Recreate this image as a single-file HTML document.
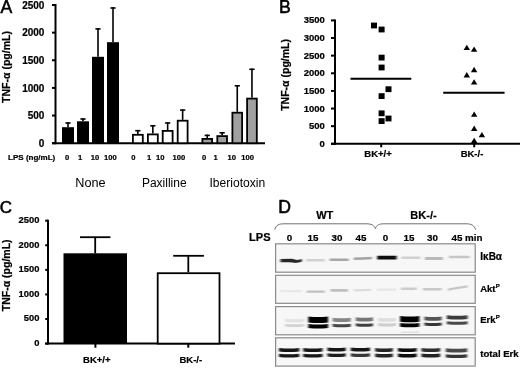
<!DOCTYPE html>
<html><head><meta charset="utf-8"><style>
html,body{margin:0;padding:0;background:#fff;}
body{width:520px;height:368px;overflow:hidden;}
svg{display:block;font-family:"Liberation Sans", sans-serif;filter:grayscale(1);}
text[font-weight=bold]{stroke:#000;stroke-width:0.22px;}
</style></head><body>
<svg width="520" height="368" viewBox="0 0 520 368" fill="#000">
<rect width="520" height="368" fill="#fff"/>
<text x="0.6" y="13.0" font-size="17.6" font-weight="normal" text-anchor="start" stroke="#000" stroke-width="0.55">A</text>
<line x1="55.5" y1="4" x2="55.5" y2="144.2" stroke="#000" stroke-width="2" />
<line x1="52" y1="143.2" x2="55.5" y2="143.2" stroke="#000" stroke-width="2" />
<text x="44.4" y="146.8" font-size="10" font-weight="bold" text-anchor="end" >0</text>
<line x1="52" y1="115.56" x2="55.5" y2="115.56" stroke="#000" stroke-width="2" />
<text x="44.4" y="119.16" font-size="10" font-weight="bold" text-anchor="end" >500</text>
<line x1="52" y1="87.92" x2="55.5" y2="87.92" stroke="#000" stroke-width="2" />
<text x="44.4" y="91.52" font-size="10" font-weight="bold" text-anchor="end" >1000</text>
<line x1="52" y1="60.28" x2="55.5" y2="60.28" stroke="#000" stroke-width="2" />
<text x="44.4" y="63.88" font-size="10" font-weight="bold" text-anchor="end" >1500</text>
<line x1="52" y1="32.64" x2="55.5" y2="32.64" stroke="#000" stroke-width="2" />
<text x="44.4" y="36.24" font-size="10" font-weight="bold" text-anchor="end" >2000</text>
<line x1="52" y1="5" x2="55.5" y2="5" stroke="#000" stroke-width="2" />
<text x="44.4" y="8.6" font-size="10" font-weight="bold" text-anchor="end" >2500</text>
<line x1="52" y1="143.2" x2="265" y2="143.2" stroke="#000" stroke-width="2" />
<text transform="translate(9.6,67) rotate(-90)" font-size="10.5" font-weight="bold" text-anchor="middle">TNF-&#945; (pg/mL)</text>
<text x="8.1" y="159.6" font-size="8" font-weight="bold" text-anchor="start" >LPS (ng/mL)</text>
<line x1="68.0" y1="127.2" x2="68.0" y2="122.2" stroke="#000" stroke-width="1.6" />
<line x1="65.4" y1="123.0" x2="70.6" y2="123.0" stroke="#000" stroke-width="1.6" />
<rect x="62" y="127.2" width="12" height="16" fill="#000" />
<line x1="83.0" y1="121.3" x2="83.0" y2="118.2" stroke="#000" stroke-width="1.6" />
<line x1="80.4" y1="119.0" x2="85.6" y2="119.0" stroke="#000" stroke-width="1.6" />
<rect x="77" y="121.3" width="12" height="21.9" fill="#000" />
<line x1="98.0" y1="56.8" x2="98.0" y2="28.1" stroke="#000" stroke-width="1.6" />
<line x1="95.4" y1="28.9" x2="100.6" y2="28.9" stroke="#000" stroke-width="1.6" />
<rect x="92" y="56.8" width="12" height="86.4" fill="#000" />
<line x1="113.0" y1="42.2" x2="113.0" y2="7.2" stroke="#000" stroke-width="1.6" />
<line x1="110.4" y1="8.0" x2="115.6" y2="8.0" stroke="#000" stroke-width="1.6" />
<rect x="107" y="42.2" width="12" height="101" fill="#000" />
<line x1="137.85" y1="133.9" x2="137.85" y2="129.9" stroke="#000" stroke-width="1.6" />
<line x1="135.25" y1="130.7" x2="140.45" y2="130.7" stroke="#000" stroke-width="1.6" />
<rect x="132.9" y="134.8" width="9.9" height="8.4" fill="#fff" stroke="#000" stroke-width="1.8"/>
<line x1="152.85" y1="133.5" x2="152.85" y2="125.0" stroke="#000" stroke-width="1.6" />
<line x1="150.25" y1="125.8" x2="155.45" y2="125.8" stroke="#000" stroke-width="1.6" />
<rect x="147.9" y="134.4" width="9.9" height="8.8" fill="#fff" stroke="#000" stroke-width="1.8"/>
<line x1="167.65" y1="130.0" x2="167.65" y2="122.2" stroke="#000" stroke-width="1.6" />
<line x1="165.05" y1="123.0" x2="170.25" y2="123.0" stroke="#000" stroke-width="1.6" />
<rect x="162.7" y="130.9" width="9.9" height="12.3" fill="#fff" stroke="#000" stroke-width="1.8"/>
<line x1="182.65" y1="119.8" x2="182.65" y2="109.3" stroke="#000" stroke-width="1.6" />
<line x1="180.05" y1="110.1" x2="185.25" y2="110.1" stroke="#000" stroke-width="1.6" />
<rect x="177.7" y="120.7" width="9.9" height="22.5" fill="#fff" stroke="#000" stroke-width="1.8"/>
<line x1="207.25" y1="138.0" x2="207.25" y2="134.6" stroke="#000" stroke-width="1.6" />
<line x1="204.65" y1="135.4" x2="209.85" y2="135.4" stroke="#000" stroke-width="1.6" />
<rect x="202.4" y="138.9" width="9.7" height="4.3" fill="#a0a0a0" stroke="#000" stroke-width="1.8"/>
<line x1="222.15" y1="135.2" x2="222.15" y2="132.0" stroke="#000" stroke-width="1.6" />
<line x1="219.55" y1="132.8" x2="224.75" y2="132.8" stroke="#000" stroke-width="1.6" />
<rect x="217.3" y="136.1" width="9.7" height="7.1" fill="#a0a0a0" stroke="#000" stroke-width="1.8"/>
<line x1="237.25" y1="111.8" x2="237.25" y2="85.0" stroke="#000" stroke-width="1.6" />
<line x1="234.65" y1="85.8" x2="239.85" y2="85.8" stroke="#000" stroke-width="1.6" />
<rect x="232.4" y="112.7" width="9.7" height="30.5" fill="#a0a0a0" stroke="#000" stroke-width="1.8"/>
<line x1="251.95" y1="97.7" x2="251.95" y2="68.5" stroke="#000" stroke-width="1.6" />
<line x1="249.35" y1="69.3" x2="254.55" y2="69.3" stroke="#000" stroke-width="1.6" />
<rect x="247.1" y="98.6" width="9.7" height="44.6" fill="#a0a0a0" stroke="#000" stroke-width="1.8"/>
<text x="67" y="160" font-size="7.6" font-weight="bold" text-anchor="middle" >0</text>
<text x="80" y="160" font-size="7.6" font-weight="bold" text-anchor="middle" >1</text>
<text x="95" y="160" font-size="7.6" font-weight="bold" text-anchor="middle" >10</text>
<text x="110.3" y="160" font-size="7.6" font-weight="bold" text-anchor="middle" >100</text>
<text x="133.3" y="160" font-size="7.6" font-weight="bold" text-anchor="middle" >0</text>
<text x="149.2" y="160" font-size="7.6" font-weight="bold" text-anchor="middle" >1</text>
<text x="160.3" y="160" font-size="7.6" font-weight="bold" text-anchor="middle" >10</text>
<text x="178.8" y="160" font-size="7.6" font-weight="bold" text-anchor="middle" >100</text>
<text x="204" y="160" font-size="7.6" font-weight="bold" text-anchor="middle" >0</text>
<text x="215.5" y="160" font-size="7.6" font-weight="bold" text-anchor="middle" >1</text>
<text x="231.8" y="160" font-size="7.6" font-weight="bold" text-anchor="middle" >10</text>
<text x="247.7" y="160" font-size="7.6" font-weight="bold" text-anchor="middle" >100</text>
<text x="75.3" y="187" font-size="12.7" font-weight="normal" text-anchor="start" >None</text>
<text x="141.9" y="187" font-size="12.0" font-weight="normal" text-anchor="start" >Paxilline</text>
<text x="209.4" y="187" font-size="12.1" font-weight="normal" text-anchor="start" >Iberiotoxin</text>
<text x="279.0" y="12.8" font-size="17.6" font-weight="normal" text-anchor="start" stroke="#000" stroke-width="0.55">B</text>
<line x1="335" y1="19.39" x2="335" y2="144.8" stroke="#000" stroke-width="2" />
<line x1="331" y1="143.8" x2="335" y2="143.8" stroke="#000" stroke-width="2" />
<text x="324.9" y="146.9" font-size="9.5" font-weight="bold" text-anchor="end" >0</text>
<line x1="331" y1="126.17" x2="335" y2="126.17" stroke="#000" stroke-width="2" />
<text x="324.9" y="129.27" font-size="9.5" font-weight="bold" text-anchor="end" >500</text>
<line x1="331" y1="108.54" x2="335" y2="108.54" stroke="#000" stroke-width="2" />
<text x="324.9" y="111.64" font-size="9.5" font-weight="bold" text-anchor="end" >1000</text>
<line x1="331" y1="90.91" x2="335" y2="90.91" stroke="#000" stroke-width="2" />
<text x="324.9" y="94.01" font-size="9.5" font-weight="bold" text-anchor="end" >1500</text>
<line x1="331" y1="73.28" x2="335" y2="73.28" stroke="#000" stroke-width="2" />
<text x="324.9" y="76.38" font-size="9.5" font-weight="bold" text-anchor="end" >2000</text>
<line x1="331" y1="55.65" x2="335" y2="55.65" stroke="#000" stroke-width="2" />
<text x="324.9" y="58.75" font-size="9.5" font-weight="bold" text-anchor="end" >2500</text>
<line x1="331" y1="38.02" x2="335" y2="38.02" stroke="#000" stroke-width="2" />
<text x="324.9" y="41.12" font-size="9.5" font-weight="bold" text-anchor="end" >3000</text>
<line x1="331" y1="20.39" x2="335" y2="20.39" stroke="#000" stroke-width="2" />
<text x="324.9" y="23.49" font-size="9.5" font-weight="bold" text-anchor="end" >3500</text>
<line x1="331" y1="143.8" x2="520" y2="143.8" stroke="#000" stroke-width="2" />
<line x1="381.2" y1="143.8" x2="381.2" y2="147.3" stroke="#000" stroke-width="2" />
<line x1="474.2" y1="143.8" x2="474.2" y2="147.3" stroke="#000" stroke-width="2" />
<text x="378" y="156.7" font-size="9.5" font-weight="bold" text-anchor="middle" >BK+/+</text>
<text x="472" y="156.7" font-size="9.5" font-weight="bold" text-anchor="middle" >BK-/-</text>
<text transform="translate(288.6,74.9) rotate(-90)" font-size="10.5" font-weight="bold" text-anchor="middle">TNF-&#945; (pg/mL)</text>
<rect x="371" y="22.6" width="6" height="5.8" fill="#000" />
<rect x="378.6" y="26.6" width="6" height="5.8" fill="#000" />
<rect x="378.6" y="54.7" width="6" height="5.8" fill="#000" />
<rect x="378.6" y="64.6" width="6" height="5.8" fill="#000" />
<rect x="385.5" y="86.3" width="6" height="5.8" fill="#000" />
<rect x="378.6" y="93.2" width="6" height="5.8" fill="#000" />
<rect x="378.6" y="110.4" width="6" height="5.8" fill="#000" />
<rect x="385.5" y="115.6" width="6" height="5.8" fill="#000" />
<rect x="378.6" y="118.2" width="6" height="5.8" fill="#000" />
<line x1="350.5" y1="78.7" x2="411.3" y2="78.7" stroke="#000" stroke-width="2" />
<polygon points="463.6,50.1 470.0,50.1 466.8,44.7" fill="#000"/>
<polygon points="470.9,51.8 477.3,51.8 474.1,46.4" fill="#000"/>
<polygon points="470.9,72.2 477.3,72.2 474.1,66.8" fill="#000"/>
<polygon points="463.6,77.4 470.0,77.4 466.8,72.0" fill="#000"/>
<polygon points="470.9,84.6 477.3,84.6 474.1,79.2" fill="#000"/>
<polygon points="471.0,116.8 477.4,116.8 474.2,111.4" fill="#000"/>
<polygon points="471.0,130.9 477.4,130.9 474.2,125.5" fill="#000"/>
<polygon points="478.7,137.3 485.1,137.3 481.9,131.9" fill="#000"/>
<polygon points="471.0,143.1 477.4,143.1 474.2,137.7" fill="#000"/>
<line x1="443.2" y1="92.8" x2="504.6" y2="92.8" stroke="#000" stroke-width="2" />
<text x="-0.2" y="213.3" font-size="16.9" font-weight="normal" text-anchor="start" stroke="#000" stroke-width="0.55">C</text>
<line x1="48" y1="219.7" x2="48" y2="344.6" stroke="#000" stroke-width="2" />
<line x1="45.2" y1="343.6" x2="48" y2="343.6" stroke="#000" stroke-width="2" />
<text x="39.4" y="346.0" font-size="9.4" font-weight="bold" text-anchor="end" >0</text>
<line x1="45.2" y1="319.02" x2="48" y2="319.02" stroke="#000" stroke-width="2" />
<text x="39.4" y="321.42" font-size="9.4" font-weight="bold" text-anchor="end" >500</text>
<line x1="45.2" y1="294.44" x2="48" y2="294.44" stroke="#000" stroke-width="2" />
<text x="39.4" y="296.84" font-size="9.4" font-weight="bold" text-anchor="end" >1000</text>
<line x1="45.2" y1="269.86" x2="48" y2="269.86" stroke="#000" stroke-width="2" />
<text x="39.4" y="272.26" font-size="9.4" font-weight="bold" text-anchor="end" >1500</text>
<line x1="45.2" y1="245.28" x2="48" y2="245.28" stroke="#000" stroke-width="2" />
<text x="39.4" y="247.68" font-size="9.4" font-weight="bold" text-anchor="end" >2000</text>
<line x1="45.2" y1="220.7" x2="48" y2="220.7" stroke="#000" stroke-width="2" />
<text x="39.4" y="223.1" font-size="9.4" font-weight="bold" text-anchor="end" >2500</text>
<line x1="45.2" y1="343.6" x2="235" y2="343.6" stroke="#000" stroke-width="2" />
<text transform="translate(9.5,275.3) rotate(-90)" font-size="10.5" font-weight="bold" text-anchor="middle">TNF-&#945; (pg/mL)</text>
<line x1="95.2" y1="253.3" x2="95.2" y2="237.2" stroke="#000" stroke-width="1.8" />
<line x1="80" y1="237.2" x2="110.4" y2="237.2" stroke="#000" stroke-width="1.8" />
<rect x="63.5" y="253.3" width="63.5" height="90.3" fill="#000" />
<line x1="188.3" y1="272.3" x2="188.3" y2="255.8" stroke="#000" stroke-width="1.8" />
<line x1="173.2" y1="255.8" x2="203.9" y2="255.8" stroke="#000" stroke-width="1.8" />
<rect x="157.7" y="273.2" width="61.8" height="70.4" fill="#fff" stroke="#000" stroke-width="1.8"/>
<line x1="95.4" y1="343.6" x2="95.4" y2="347.7" stroke="#000" stroke-width="2" />
<line x1="188.3" y1="343.6" x2="188.3" y2="347.7" stroke="#000" stroke-width="2" />
<text x="96.8" y="362.9" font-size="9.5" font-weight="bold" text-anchor="middle" >BK+/+</text>
<text x="190.8" y="362.9" font-size="9.5" font-weight="bold" text-anchor="middle" >BK-/-</text>
<text x="278.3" y="213.0" font-size="17.6" font-weight="normal" text-anchor="start" stroke="#000" stroke-width="0.55">D</text>
<text x="324.7" y="219.2" font-size="11" font-weight="bold" text-anchor="middle" >WT</text>
<text x="423.5" y="219.2" font-size="11" font-weight="bold" text-anchor="middle" >BK-/-</text>
<text x="249.1" y="240.8" font-size="11.0" font-weight="bold" text-anchor="start" >LPS</text>
<text x="289.5" y="241.3" font-size="9.8" font-weight="bold" text-anchor="middle" >0</text>
<text x="313.0" y="241.3" font-size="9.8" font-weight="bold" text-anchor="middle" >15</text>
<text x="337.0" y="241.3" font-size="9.8" font-weight="bold" text-anchor="middle" >30</text>
<text x="361.0" y="241.3" font-size="9.8" font-weight="bold" text-anchor="middle" >45</text>
<text x="385.5" y="241.3" font-size="9.8" font-weight="bold" text-anchor="middle" >0</text>
<text x="409.0" y="241.3" font-size="9.8" font-weight="bold" text-anchor="middle" >15</text>
<text x="432.5" y="241.3" font-size="9.8" font-weight="bold" text-anchor="middle" >30</text>
<text x="451.5" y="241.3" font-size="9.8" font-weight="bold" text-anchor="start" >45 min</text>
<path d="M274.8,229.8 C276,225 279,223.8 284,223.8 L366,223.8 C371.5,223.8 374,225 375.3,228.6 C376.6,225 379,223.8 384,223.8 L466,223.8 C471,223.8 474,225 475.8,229.8" fill="none" stroke="#707070" stroke-width="1"/>
<defs><filter id="bl" x="-20%" y="-150%" width="140%" height="400%"><feGaussianBlur stdDeviation="0.9 0.75"/></filter><filter id="bl2" x="-20%" y="-150%" width="140%" height="400%"><feGaussianBlur stdDeviation="1.1 1.0"/></filter></defs>
<rect x="275.6" y="243.8" width="199.6" height="28.4" fill="#f7f7f7" stroke="#8a8a8a" stroke-width="1.2"/>
<rect x="275.6" y="275.3" width="199.6" height="28.0" fill="#f7f7f7" stroke="#8a8a8a" stroke-width="1.2"/>
<rect x="275.6" y="306.6" width="199.6" height="28.2" fill="#f7f7f7" stroke="#8a8a8a" stroke-width="1.2"/>
<rect x="275.6" y="337.8" width="199.6" height="28.3" fill="#f7f7f7" stroke="#8a8a8a" stroke-width="1.2"/>
<path d="M280.5,258.9 L292,258.8 Q296,259.4 297,260.2 Q299.5,259.3 301.8,258.9 L301.8,261.8 Q298,262.6 295.5,263 Q292,262 288,262.2 L280.5,262.2Z" fill="#262626" filter="url(#bl)"/>
<path d="M306.3,259.00 Q315.6,259.00 324.9,259.00 L324.9,261.40 Q315.6,261.40 306.3,261.40Z" fill="#d2d2d2" filter="url(#bl)"/>
<path d="M329.6,258.50 Q339.1,258.50 348.7,258.50 L348.7,261.10 Q339.1,261.10 329.6,261.10Z" fill="#a6a6a6" filter="url(#bl)"/>
<path d="M353.8,257.60 Q362.9,257.20 372.0,256.80 L372.0,259.20 Q362.9,259.60 353.8,260.00Z" fill="#a2a2a2" filter="url(#bl)"/>
<path d="M377.3,255.70 Q387.0,255.70 396.6,255.70 L396.6,259.50 Q387.0,259.50 377.3,259.50Z" fill="#080808" filter="url(#bl)"/>
<path d="M401.3,256.40 Q410.9,256.40 420.4,256.40 L420.4,259.00 Q410.9,259.00 401.3,259.00Z" fill="#d0d0d0" filter="url(#bl)"/>
<path d="M425.0,257.10 Q434.0,257.10 443.0,257.10 L443.0,259.90 Q434.0,259.90 425.0,259.90Z" fill="#bababa" filter="url(#bl)"/>
<path d="M448.8,255.70 Q459.3,255.70 469.8,255.70 L469.8,258.30 Q459.3,258.30 448.8,258.30Z" fill="#c6c6c6" filter="url(#bl)"/>
<path d="M280.0,290.10 Q291.0,290.10 302.0,290.10 L302.0,292.30 Q291.0,292.30 280.0,292.30Z" fill="#e8e8e8" filter="url(#bl)"/>
<path d="M306.7,290.40 Q315.8,290.40 324.9,290.40 L324.9,292.80 Q315.8,292.80 306.7,292.80Z" fill="#c0c0c0" filter="url(#bl)"/>
<path d="M330.4,289.10 Q339.2,289.10 348.0,289.10 L348.0,291.70 Q339.2,291.70 330.4,291.70Z" fill="#bfbfbf" filter="url(#bl)"/>
<path d="M353.8,289.30 Q362.4,289.00 371.0,288.70 L371.0,290.90 Q362.4,291.20 353.8,291.50Z" fill="#dcdcdc" filter="url(#bl)"/>
<path d="M377.0,288.50 Q386.5,288.50 396.0,288.50 L396.0,290.70 Q386.5,290.70 377.0,290.70Z" fill="#e6e6e6" filter="url(#bl)"/>
<path d="M400.7,287.60 Q408.7,287.60 416.7,287.60 L416.7,290.00 Q408.7,290.00 400.7,290.00Z" fill="#cdcdcd" filter="url(#bl)"/>
<path d="M423.0,288.00 Q432.4,288.00 441.7,288.00 L441.7,290.40 Q432.4,290.40 423.0,290.40Z" fill="#c8c8c8" filter="url(#bl)"/>
<path d="M447.9,288.40 Q457.8,286.80 467.6,285.20 L467.6,287.60 Q457.8,289.20 447.9,290.80Z" fill="#c6c6c6" filter="url(#bl)"/>
<path d="M285.1,318.70 Q294.7,319.70 304.3,318.70 L304.3,321.70 Q294.7,322.70 285.1,321.70Z" fill="#e2e2e2" filter="url(#bl)"/>
<path d="M285.1,323.80 Q294.7,324.80 304.3,323.80 L304.3,326.60 Q294.7,327.60 285.1,326.60Z" fill="#d2d2d2" filter="url(#bl)"/>
<path d="M308.3,316.50 Q318.2,317.50 328.1,316.50 L328.1,322.50 Q318.2,323.50 308.3,322.50Z" fill="#000" filter="url(#bl)"/>
<path d="M308.3,323.90 Q318.2,324.90 328.1,323.90 L328.1,327.90 Q318.2,328.90 308.3,327.90Z" fill="#000" filter="url(#bl)"/>
<path d="M332.6,317.70 Q341.7,318.70 350.8,317.70 L350.8,321.50 Q341.7,322.50 332.6,321.50Z" fill="#858585" filter="url(#bl)"/>
<path d="M332.6,323.70 Q341.7,324.70 350.8,323.70 L350.8,326.70 Q341.7,327.70 332.6,326.70Z" fill="#454545" filter="url(#bl)"/>
<path d="M355.8,317.30 Q364.4,318.30 373.0,317.30 L373.0,321.10 Q364.4,322.10 355.8,321.10Z" fill="#767676" filter="url(#bl)"/>
<path d="M355.8,323.30 Q364.4,324.30 373.0,323.30 L373.0,326.30 Q364.4,327.30 355.8,326.30Z" fill="#404040" filter="url(#bl)"/>
<path d="M377.9,317.80 Q386.9,318.80 396.0,317.80 L396.0,321.20 Q386.9,322.20 377.9,321.20Z" fill="#dedede" filter="url(#bl)"/>
<path d="M377.9,323.10 Q386.9,324.10 396.0,323.10 L396.0,325.90 Q386.9,326.90 377.9,325.90Z" fill="#cecece" filter="url(#bl)"/>
<path d="M400.1,316.10 Q409.8,317.10 419.4,316.10 L419.4,321.70 Q409.8,322.70 400.1,321.70Z" fill="#000" filter="url(#bl)"/>
<path d="M400.1,323.00 Q409.8,324.00 419.4,323.00 L419.4,326.80 Q409.8,327.80 400.1,326.80Z" fill="#000" filter="url(#bl)"/>
<path d="M424.4,316.40 Q433.0,317.40 441.7,316.40 L441.7,320.20 Q433.0,321.20 424.4,320.20Z" fill="#555" filter="url(#bl)"/>
<path d="M424.4,322.50 Q433.0,323.50 441.7,322.50 L441.7,325.50 Q433.0,326.50 424.4,325.50Z" fill="#383838" filter="url(#bl)"/>
<path d="M446.8,315.20 Q457.2,316.20 467.6,315.20 L467.6,319.00 Q457.2,320.00 446.8,319.00Z" fill="#3a3a3a" filter="url(#bl)"/>
<path d="M446.8,321.20 Q457.2,322.20 467.6,321.20 L467.6,324.20 Q457.2,325.20 446.8,324.20Z" fill="#4a4a4a" filter="url(#bl)"/>
<path d="M401.0,331.40 Q410.0,331.40 419.0,331.40 L419.0,333.00 Q410.0,333.00 401.0,333.00Z" fill="#e0e0e0" filter="url(#bl)"/>
<path d="M279.0,347.90 Q289.1,348.90 299.3,347.90 L299.3,351.50 Q289.1,352.50 279.0,351.50Z" fill="#141414" filter="url(#bl)"/>
<path d="M279.0,353.70 Q289.1,354.70 299.3,353.70 L299.3,357.10 Q289.1,358.10 279.0,357.10Z" fill="#141414" filter="url(#bl)"/>
<path d="M303.3,347.90 Q312.9,348.90 322.5,347.90 L322.5,351.50 Q312.9,352.50 303.3,351.50Z" fill="#141414" filter="url(#bl)"/>
<path d="M303.3,353.70 Q312.9,354.70 322.5,353.70 L322.5,357.10 Q312.9,358.10 303.3,357.10Z" fill="#141414" filter="url(#bl)"/>
<path d="M327.5,347.50 Q336.6,348.50 345.7,347.50 L345.7,351.10 Q336.6,352.10 327.5,351.10Z" fill="#181818" filter="url(#bl)"/>
<path d="M327.5,353.20 Q336.6,354.20 345.7,353.20 L345.7,356.60 Q336.6,357.60 327.5,356.60Z" fill="#1a1a1a" filter="url(#bl)"/>
<path d="M350.8,347.50 Q360.4,348.50 370.0,347.50 L370.0,351.10 Q360.4,352.10 350.8,351.10Z" fill="#181818" filter="url(#bl)"/>
<path d="M350.8,353.20 Q360.4,354.20 370.0,353.20 L370.0,356.60 Q360.4,357.60 350.8,356.60Z" fill="#383838" filter="url(#bl)"/>
<path d="M375.2,347.90 Q384.0,348.90 392.8,347.90 L392.8,351.50 Q384.0,352.50 375.2,351.50Z" fill="#262626" filter="url(#bl)"/>
<path d="M375.2,353.60 Q384.0,354.60 392.8,353.60 L392.8,357.00 Q384.0,358.00 375.2,357.00Z" fill="#262626" filter="url(#bl)"/>
<path d="M398.0,347.90 Q407.4,348.90 416.7,347.90 L416.7,351.50 Q407.4,352.50 398.0,351.50Z" fill="#0c0c0c" filter="url(#bl)"/>
<path d="M398.0,353.60 Q407.4,354.60 416.7,353.60 L416.7,357.00 Q407.4,358.00 398.0,357.00Z" fill="#0c0c0c" filter="url(#bl)"/>
<path d="M421.5,347.90 Q430.9,348.90 440.2,347.90 L440.2,351.50 Q430.9,352.50 421.5,351.50Z" fill="#2e2e2e" filter="url(#bl)"/>
<path d="M421.5,353.60 Q430.9,354.60 440.2,353.60 L440.2,357.00 Q430.9,358.00 421.5,357.00Z" fill="#222" filter="url(#bl)"/>
<path d="M445.8,348.30 Q456.5,349.30 467.2,348.30 L467.2,351.90 Q456.5,352.90 445.8,351.90Z" fill="#484848" filter="url(#bl)"/>
<path d="M445.8,354.20 Q456.5,355.20 467.2,354.20 L467.2,357.60 Q456.5,358.60 445.8,357.60Z" fill="#363636" filter="url(#bl)"/>
<text x="480.3" y="260.2" font-size="10" font-weight="bold" text-anchor="start" >I&#954;B&#945;</text>
<text x="480.2" y="291.7" font-size="9.5" font-weight="bold">Akt<tspan font-size="6" dx="0.2" dy="-3.3">P</tspan></text>
<text x="480.2" y="322.8" font-size="9.5" font-weight="bold">Erk<tspan font-size="6" dx="0.2" dy="-3.6">P</tspan></text>
<text x="480.3" y="357.0" font-size="9.6" font-weight="bold" text-anchor="start" >total Erk</text>
</svg>
</body></html>
